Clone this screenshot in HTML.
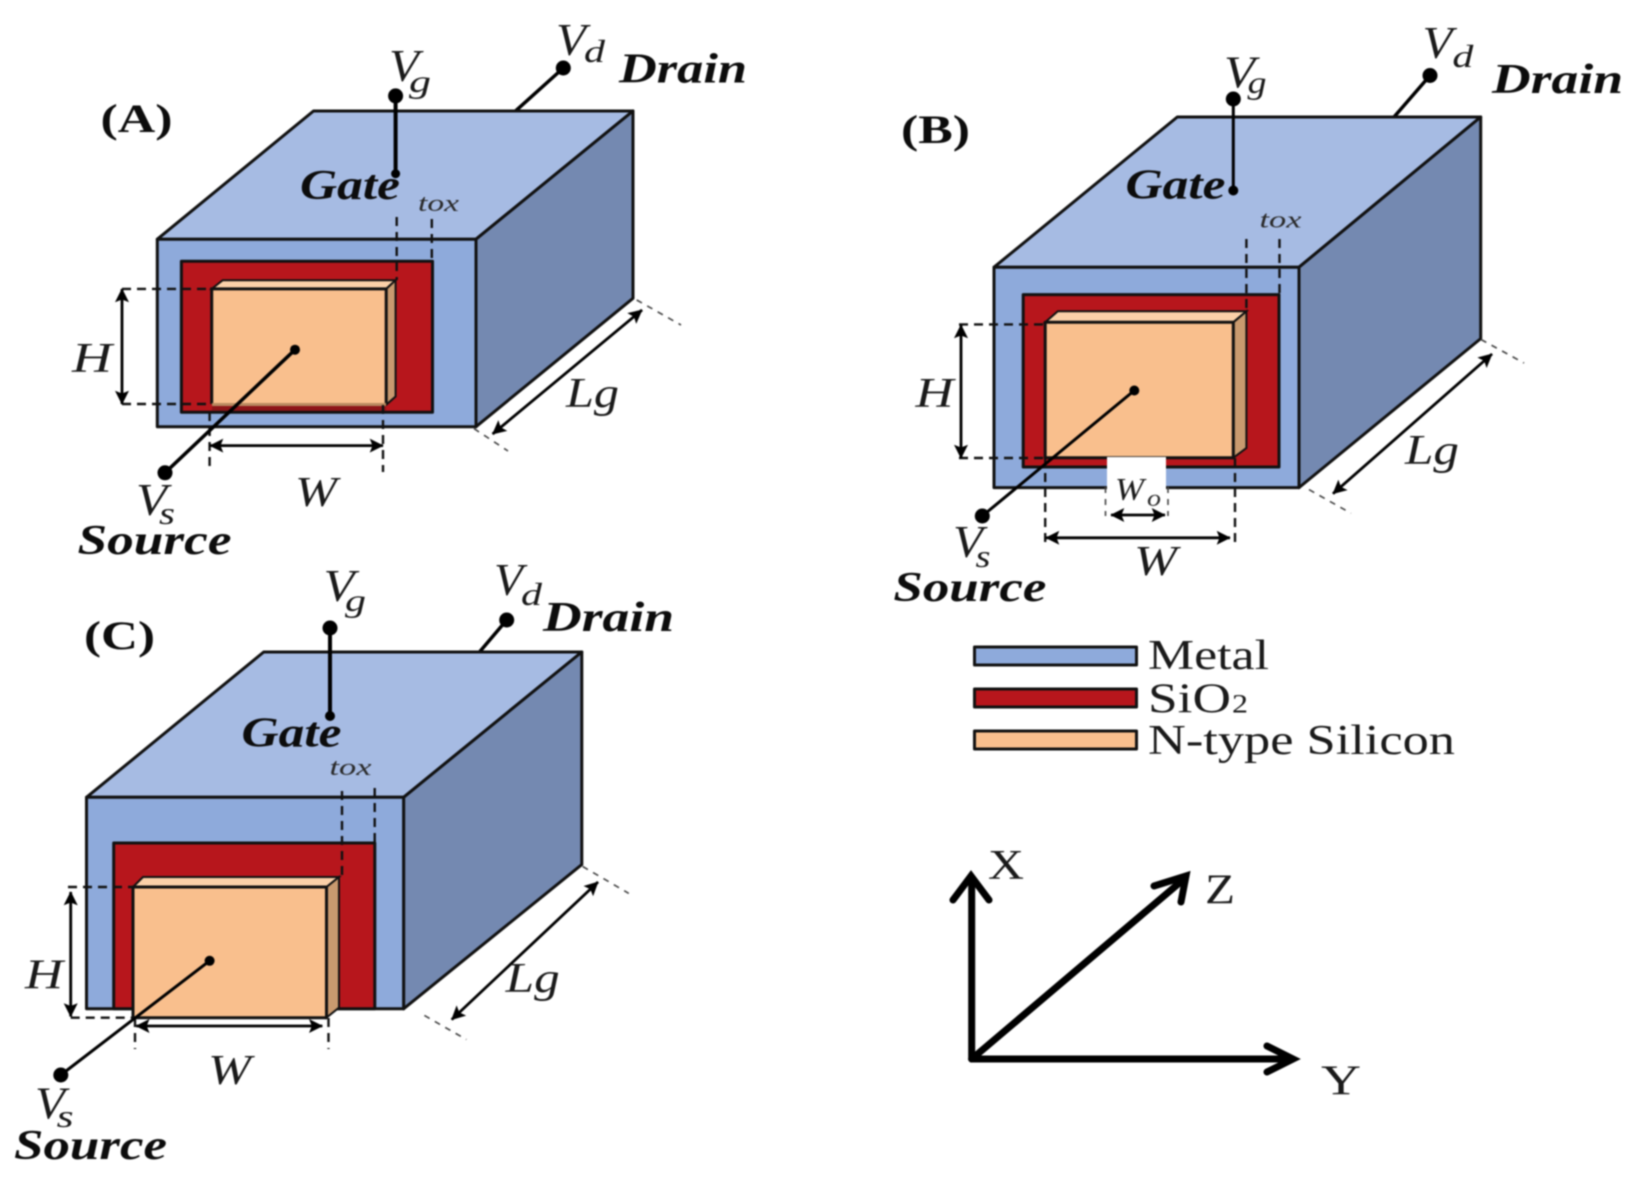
<!DOCTYPE html>
<html>
<head>
<meta charset="utf-8">
<style>
html,body{margin:0;padding:0;background:#fff;width:1644px;height:1183px;overflow:hidden}
svg{display:block;filter:blur(0.9px)}
text{font-family:"Liberation Serif",serif;fill:#0c0c0c}
.b{font-weight:bold;font-style:italic;font-size:42px}
.h{font-weight:bold;font-size:40px}
.i{font-style:italic;font-size:42px;fill:#1a1a1a}
.v{font-style:italic;font-size:46px;fill:#1a1a1a}
.s{font-style:italic;font-size:32px;fill:#1a1a1a}
.t{font-style:italic;font-size:24px;fill:#2a2a2a}
.l{font-size:42px;fill:#1a1a1a}
.e{stroke:#111;stroke-width:3;stroke-linejoin:round}
.w{stroke:#000;fill:none;stroke-linecap:round}
.d{stroke:#111;stroke-width:2.4;stroke-dasharray:9 6;fill:none}
.dt{stroke:#444;stroke-width:1.6;stroke-dasharray:6 6;fill:none}
.a{stroke:#000;stroke-width:2.8;fill:none;marker-start:url(#ar);marker-end:url(#ar)}
</style>
</head>
<body>
<svg width="1644" height="1183" viewBox="0 0 1644 1183" xmlns="http://www.w3.org/2000/svg">
<defs>
<marker id="ar" viewBox="0 0 10 10" refX="9.5" refY="5" markerWidth="20" markerHeight="14" markerUnits="userSpaceOnUse" orient="auto-start-reverse">
<path d="M0 0L10 5L0 10L2 5Z" fill="#000"/>
</marker>
</defs>
<rect width="1644" height="1183" fill="#fff"/>

<!-- Panel A -->
<line class="w" x1="516" y1="110.6" x2="563.3" y2="68" stroke-width="3.5"/>
<polygon class="e" fill="#a6bbe3" points="157.3,239.2 313.5,111 633,111 476,239.2"/>
<polygon class="e" fill="#7489b1" points="476,239.2 633,111 633,298.3 476,426.7"/>
<rect class="e" fill="#8eaadb" x="157.3" y="239.2" width="318.7" height="187.5"/>
<rect class="e" fill="#b7161c" x="181.4" y="261.3" width="251.1" height="151"/>
<polygon fill="#fbd0a8" stroke="#111" stroke-width="2" points="211.7,288.9 222.7,280.2 395.6,280.2 386.2,288.9"/>
<polygon fill="#c99a6f" stroke="#111" stroke-width="2" points="386.2,288.9 395.6,280.2 395.6,396.5 386.2,404.8"/>
<path d="M211.7 404V288.9H386.2V404" fill="#f9bf8d" stroke="#111" stroke-width="3"/>
<rect x="212" y="403" width="174" height="3" fill="#b98a60"/>
<rect x="212" y="406" width="174" height="4.5" fill="#8f1519"/>
<path class="d" d="M122 288.9H211M122 404H211M209.6 412V472M383 405V472"/>
<path class="d" d="M396.7 217V280M431.8 219V262"/>
<line class="a" x1="122" y1="289" x2="122" y2="404"/>
<line class="a" x1="210" y1="445.6" x2="383" y2="445.6"/>
<line class="a" x1="492.6" y1="434" x2="642" y2="310"/>
<path class="dt" d="M636.7 300L681 325M474 428.6L508 451"/>
<line class="w" x1="395.6" y1="95.9" x2="395.6" y2="173.7" stroke-width="4"/>
<line class="w" x1="165" y1="472.8" x2="295" y2="349.7" stroke-width="3.5"/>
<circle cx="395.6" cy="95.9" r="7.5"/><circle cx="395.6" cy="173.7" r="4.5"/>
<circle cx="563.3" cy="68" r="7.5"/><circle cx="165" cy="472.8" r="7.5"/><circle cx="295" cy="349.7" r="5"/>
<text class="h" x="100.5" y="132" textLength="72" lengthAdjust="spacingAndGlyphs">(A)</text>
<text class="b" x="619" y="82.3" textLength="128" lengthAdjust="spacingAndGlyphs">Drain</text>
<text class="b" x="300" y="199" textLength="100" lengthAdjust="spacingAndGlyphs">Gate</text>
<text class="b" x="77.5" y="554" textLength="154" lengthAdjust="spacingAndGlyphs">Source</text>
<text class="v" x="389" y="81" textLength="30" lengthAdjust="spacingAndGlyphs">V</text>
<text class="s" x="409" y="92" textLength="22" lengthAdjust="spacingAndGlyphs">g</text>
<text class="v" x="556" y="55" textLength="30" lengthAdjust="spacingAndGlyphs">V</text>
<text class="s" x="584" y="62" textLength="21" lengthAdjust="spacingAndGlyphs">d</text>
<text class="v" x="136" y="515" textLength="31" lengthAdjust="spacingAndGlyphs">V</text>
<text class="s" x="159" y="524" textLength="16" lengthAdjust="spacingAndGlyphs">s</text>
<text class="i" x="72" y="372" textLength="40" lengthAdjust="spacingAndGlyphs">H</text>
<text class="i" x="295" y="506" textLength="42" lengthAdjust="spacingAndGlyphs">W</text>
<text class="i" x="566" y="407" textLength="53" lengthAdjust="spacingAndGlyphs">Lg</text>
<text class="t" x="418" y="211" textLength="41" lengthAdjust="spacingAndGlyphs">tox</text>

<!-- Panel B -->
<line class="w" x1="1394" y1="117" x2="1430" y2="75.5" stroke-width="3.5"/>
<polygon class="e" fill="#a6bbe3" points="994,267.2 1177.3,117 1480.7,117 1299,267.2"/>
<polygon class="e" fill="#7489b1" points="1299,267.2 1480.7,117 1480.7,338.6 1299,487.6"/>
<rect class="e" fill="#8eaadb" x="994" y="267.2" width="305" height="220.4"/>
<rect class="e" fill="#b7161c" x="1023.2" y="294.6" width="255.8" height="172.4"/>
<polygon fill="#fbd0a8" stroke="#111" stroke-width="2" points="1045.2,322.3 1057.8,311.3 1246.4,311.3 1233.3,322.3"/>
<polygon fill="#c99a6f" stroke="#111" stroke-width="2" points="1233.3,322.3 1246.4,311.3 1246.4,448 1233.3,457.8"/>
<rect class="e" fill="#f9bf8d" x="1045.2" y="322.3" width="188.1" height="135.5"/>
<rect fill="#fff" x="1107" y="457" width="59" height="33"/>
<path class="d" d="M959 324.4H1045M959 458H1045M1045.2 458V542M1235 458V542"/>
<path class="d" d="M1246.4 239V311M1279.5 239V295"/>
<path class="dt" d="M1105.5 487V516M1168 487V516"/>
<line class="a" x1="961" y1="325" x2="961" y2="458"/>
<line class="a" x1="1046" y1="537.8" x2="1230" y2="537.8"/>
<line class="a" x1="1111" y1="515" x2="1165" y2="515"/>
<line class="a" x1="1333" y1="493.7" x2="1492" y2="354"/>
<path class="dt" d="M1481 339.5L1524 363M1309 489.6L1351 513.3"/>
<line class="w" x1="1233.3" y1="99" x2="1233.3" y2="190.5" stroke-width="3"/>
<line class="w" x1="982.3" y1="516" x2="1134.3" y2="390.5" stroke-width="3"/>
<circle cx="1233.3" cy="99" r="7.5"/><circle cx="1233.3" cy="190.5" r="5"/>
<circle cx="1430" cy="75.5" r="7.5"/><circle cx="982.3" cy="516" r="7.5"/><circle cx="1134.3" cy="390.5" r="5"/>
<text class="h" x="901" y="143" textLength="69" lengthAdjust="spacingAndGlyphs">(B)</text>
<text class="b" x="1492" y="93" textLength="131" lengthAdjust="spacingAndGlyphs">Drain</text>
<text class="b" x="1125.5" y="198.7" textLength="100" lengthAdjust="spacingAndGlyphs">Gate</text>
<text class="b" x="893.4" y="601" textLength="153" lengthAdjust="spacingAndGlyphs">Source</text>
<text class="v" x="1224" y="87.7" textLength="31" lengthAdjust="spacingAndGlyphs">V</text>
<text class="s" x="1247.5" y="93" textLength="19" lengthAdjust="spacingAndGlyphs">g</text>
<text class="v" x="1422.5" y="58" textLength="30" lengthAdjust="spacingAndGlyphs">V</text>
<text class="s" x="1452.4" y="67" textLength="21" lengthAdjust="spacingAndGlyphs">d</text>
<text class="v" x="953" y="557" textLength="30" lengthAdjust="spacingAndGlyphs">V</text>
<text class="s" x="975.5" y="567" textLength="15" lengthAdjust="spacingAndGlyphs">s</text>
<text class="i" x="915.5" y="406.8" textLength="38" lengthAdjust="spacingAndGlyphs">H</text>
<text class="i" x="1134" y="575" textLength="43" lengthAdjust="spacingAndGlyphs">W</text>
<text class="s" x="1115" y="500" textLength="29" lengthAdjust="spacingAndGlyphs">W</text>
<text class="t" x="1147" y="506" textLength="14" lengthAdjust="spacingAndGlyphs">o</text>
<text class="i" x="1405" y="464" textLength="54" lengthAdjust="spacingAndGlyphs">Lg</text>
<text class="t" x="1259.5" y="227.7" textLength="42" lengthAdjust="spacingAndGlyphs">tox</text>

<!-- Panel C -->
<line class="w" x1="479.5" y1="652" x2="506.7" y2="620" stroke-width="3.5"/>
<polygon class="e" fill="#a6bbe3" points="86.5,797.3 263.7,652 581.8,652 403.6,797.3"/>
<polygon class="e" fill="#7489b1" points="403.6,797.3 581.8,652 581.8,864.6 403.6,1008.8"/>
<rect class="e" fill="#8eaadb" x="86.5" y="797.3" width="317.1" height="211.5"/>
<rect class="e" fill="#b7161c" x="113.7" y="843" width="261.1" height="165.8"/>
<polygon fill="#fbd0a8" stroke="#111" stroke-width="2" points="133,887 143,877 339,877 326.5,887"/>
<polygon fill="#c99a6f" stroke="#111" stroke-width="2" points="326.5,887 339,877 339,1007.7 326.5,1017.7"/>
<rect class="e" fill="#f9bf8d" x="133" y="887" width="193.5" height="130.7"/>
<path class="d" d="M68 887H134M70.7 1017.7H134M135 1018V1049M328.5 1018V1049"/>
<path class="d" d="M342 791V877M374.7 788V843"/>
<line class="a" x1="70.7" y1="892" x2="70.7" y2="1016.5"/>
<line class="a" x1="136.2" y1="1026" x2="322.3" y2="1026"/>
<line class="a" x1="451.7" y1="1019.6" x2="598" y2="882"/>
<path class="dt" d="M582.7 866.5L628.8 893.4M424.4 1015.4L466.4 1039.6"/>
<line class="w" x1="330" y1="628" x2="330" y2="716" stroke-width="4"/>
<line class="w" x1="60.8" y1="1075" x2="209.6" y2="960.8" stroke-width="3"/>
<circle cx="330" cy="628" r="7.5"/><circle cx="330" cy="716" r="5"/>
<circle cx="506.7" cy="620" r="7.5"/><circle cx="60.8" cy="1075" r="7.5"/><circle cx="209.6" cy="960.8" r="5"/>
<text class="h" x="84" y="649" textLength="71" lengthAdjust="spacingAndGlyphs">(C)</text>
<text class="b" x="543" y="631" textLength="131" lengthAdjust="spacingAndGlyphs">Drain</text>
<text class="b" x="241.5" y="746.5" textLength="100" lengthAdjust="spacingAndGlyphs">Gate</text>
<text class="b" x="14" y="1159" textLength="153" lengthAdjust="spacingAndGlyphs">Source</text>
<text class="v" x="323.5" y="601" textLength="31" lengthAdjust="spacingAndGlyphs">V</text>
<text class="s" x="345" y="611" textLength="21" lengthAdjust="spacingAndGlyphs">g</text>
<text class="v" x="494" y="595" textLength="29" lengthAdjust="spacingAndGlyphs">V</text>
<text class="s" x="521" y="605" textLength="21" lengthAdjust="spacingAndGlyphs">d</text>
<text class="v" x="35" y="1118.5" textLength="30" lengthAdjust="spacingAndGlyphs">V</text>
<text class="s" x="56.6" y="1127" textLength="17" lengthAdjust="spacingAndGlyphs">s</text>
<text class="i" x="25" y="988.4" textLength="38" lengthAdjust="spacingAndGlyphs">H</text>
<text class="i" x="208" y="1084" textLength="43" lengthAdjust="spacingAndGlyphs">W</text>
<text class="i" x="505.7" y="992" textLength="54" lengthAdjust="spacingAndGlyphs">Lg</text>
<text class="t" x="329.5" y="775" textLength="42" lengthAdjust="spacingAndGlyphs">tox</text>

<!-- Legend -->
<rect class="e" fill="#8eaadb" x="979" y="649" width="162" height="18" transform="translate(-4.5,-2)"/>
<rect class="e" fill="#b7161c" x="979" y="691" width="162" height="18" transform="translate(-4.5,-2)"/>
<rect class="e" fill="#f9bf8d" x="979" y="733" width="162" height="18" transform="translate(-4.5,-2)"/>
<text class="l" x="1148" y="669" textLength="121" lengthAdjust="spacingAndGlyphs">Metal</text>
<text class="l" x="1148" y="712.6" textLength="83" lengthAdjust="spacingAndGlyphs">SiO</text>
<text class="l" x="1232" y="712.6" textLength="16" lengthAdjust="spacingAndGlyphs" style="font-size:26px">2</text>
<text class="l" x="1148" y="754" textLength="307" lengthAdjust="spacingAndGlyphs">N-type Silicon</text>

<!-- Axes -->
<g fill="none" stroke="#000" stroke-width="7" stroke-linecap="round" stroke-linejoin="miter">
<path d="M971.7 1059V878"/>
<path d="M953 900L971 876L989 900"/>
<path d="M971.7 1059L1184 879"/>
<path d="M1154 886L1186 876L1181 902"/>
<path d="M971.7 1059H1290"/>
<path d="M1267 1046L1293 1059L1267 1072"/>
</g>
<text class="l" x="988" y="879" textLength="36" lengthAdjust="spacingAndGlyphs">X</text>
<text class="l" x="1205" y="903.6" textLength="30" lengthAdjust="spacingAndGlyphs">Z</text>
<text class="l" x="1321" y="1094.6" textLength="40" lengthAdjust="spacingAndGlyphs">Y</text>
</svg>
</body>
</html>
